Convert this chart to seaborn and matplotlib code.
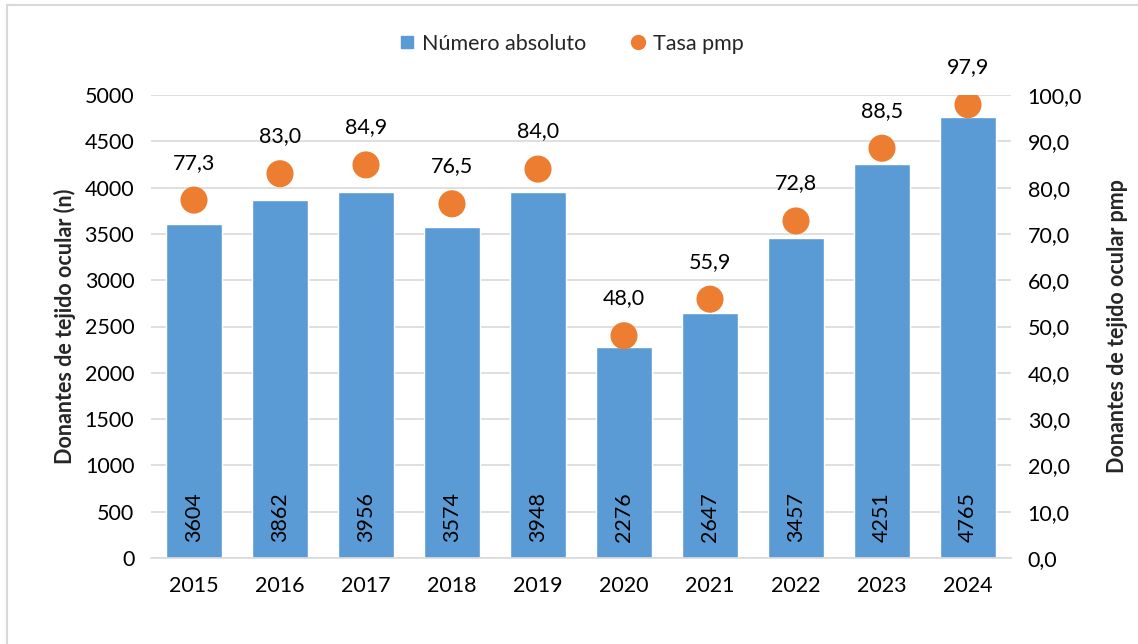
import numpy as np
import pandas as pd
import matplotlib
matplotlib.use("Agg")
import matplotlib.pyplot as plt
from matplotlib.patches import Rectangle
from matplotlib.lines import Line2D
import seaborn as sns

years = ["2015", "2016", "2017", "2018", "2019", "2020", "2021", "2022", "2023", "2024"]
donantes = [3604, 3862, 3956, 3574, 3948, 2276, 2647, 3457, 4251, 4765]
tasa_pmp = [77.3, 83.0, 84.9, 76.5, 84.0, 48.0, 55.9, 72.8, 88.5, 97.9]

df = pd.DataFrame({"year": years, "n": donantes, "pmp": tasa_pmp})

blue = "#5B9BD5"
orange = "#ED7D31"
grid_c = "#D9D9D9"
txt = "#000000"
fs = 15.5

sns.set_style("white")
plt.rcParams["font.family"] = ["Lato", "DejaVu Sans"]

fig = plt.figure(figsize=(11.38, 6.44), dpi=100)
ax = fig.add_axes([151 / 1138, 1 - 558 / 644, 860 / 1138, 463 / 644])

sns.barplot(data=df, x="year", y="n", color=blue, width=0.66, saturation=1, ax=ax, zorder=2)
ax.set_ylim(0, 5000)
ax.set_yticks(np.arange(0, 5001, 500))
ax.set_xlim(-0.5, 9.5)
ax.grid(axis="y", color=grid_c, linewidth=1.2, zorder=0)
ax.set_axisbelow(True)
for s in ["top", "right", "left"]:
    ax.spines[s].set_visible(False)
ax.spines["bottom"].set_color(grid_c)
ax.spines["bottom"].set_linewidth(1.2)
ax.tick_params(axis="both", length=0, labelsize=fs, colors=txt)
ax.tick_params(axis="x", pad=13)
ax.tick_params(axis="y", pad=12)
ax.set_xlabel("")
ax.set_ylabel("Donantes de tejido ocular (n)", fontsize=fs, fontweight="bold", labelpad=6)

for i, v in enumerate(donantes):
    ax.text(i, 440, str(v), rotation=90, ha="center", va="center", fontsize=fs, color=txt, zorder=4)

ax2 = ax.twinx()
sns.scatterplot(x=np.arange(len(years)), y=tasa_pmp, color=orange, s=380, edgecolor="none", ax=ax2, zorder=5)
ax2.set_ylim(0, 100)
ax2.set_yticks(np.arange(0, 101, 10))
ax2.set_yticklabels([f"{t:.1f}".replace(".", ",") for t in np.arange(0, 101, 10)])
for s in ["top", "right", "left", "bottom"]:
    ax2.spines[s].set_visible(False)
ax2.tick_params(axis="y", length=0, labelsize=fs, colors=txt, pad=12)
ax2.set_ylabel("Donantes de tejido ocular pmp", fontsize=fs, fontweight="bold", labelpad=18)
ax2.grid(False)

for i, v in enumerate(tasa_pmp):
    ax2.annotate(f"{v:.1f}".replace(".", ","), (i, v), xytext=(0, 27), textcoords="offset points",
                 ha="center", va="center", fontsize=fs, color=txt)

handles = [
    Line2D([0], [0], marker="s", linestyle="none", markersize=9, markerfacecolor=blue, markeredgecolor=blue),
    Line2D([0], [0], marker="o", linestyle="none", markersize=10, markerfacecolor=orange, markeredgecolor=orange),
]
fig.legend(handles, ["Número absoluto", "Tasa pmp"], loc="center", bbox_to_anchor=(0.5, 1 - 44 / 644),
           ncol=2, frameon=False, fontsize=fs, handletextpad=0.1, columnspacing=1.8, handlelength=1.2)

fig.patches.append(Rectangle((7 / 1138, -0.1), 1.2, 1 - 5 / 644 + 0.1, transform=fig.transFigure,
                             fill=False, edgecolor="#D9D9D9", linewidth=1.5))

fig.savefig("out.png", dpi=100)
